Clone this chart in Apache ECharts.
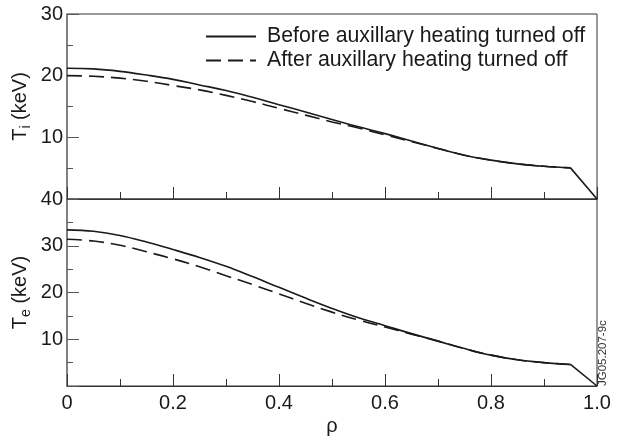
<!DOCTYPE html>
<html>
<head>
<meta charset="utf-8">
<script src="https://cdn.jsdelivr.net/npm/echarts@6/dist/echarts.min.js"></script>
<style>
  html, body { margin: 0; padding: 0; background: #fff; }
  #chart { width: 621px; height: 441px; }
</style>
</head>
<body>
<div id="chart"></div>
<script>
// Normalised radius
const rho = [0, 0.05, 0.1, 0.15, 0.2, 0.25, 0.3, 0.35, 0.4, 0.45, 0.5,
             0.55, 0.6, 0.65, 0.7, 0.75, 0.8, 0.85, 0.9, 0.95, 1.0];

// Ion temperature (keV)
const tiBefore = [21.2, 21.1, 20.7, 20.1, 19.4, 18.5, 17.6, 16.5, 15.3, 14.1, 12.9,
                  11.7, 10.6, 9.4, 8.2, 7.1, 6.3, 5.7, 5.3, 5.05, 0];
const tiAfter  = [20.0, 19.9, 19.6, 19.1, 18.4, 17.7, 16.8, 15.8, 14.7, 13.6, 12.5,
                  11.5, 10.4, 9.3, 8.2, 7.1, 6.3, 5.7, 5.3, 5.05, 0];

// Electron temperature (keV)
const teBefore = [33.4, 33.1, 32.2, 30.8, 29.2, 27.5, 25.6, 23.4, 21.1, 18.8, 16.6,
                  14.6, 12.9, 11.2, 9.6, 8.0, 6.6, 5.6, 5.0, 4.6, 0];
const teAfter  = [31.4, 31.0, 30.1, 28.7, 27.2, 25.5, 23.6, 21.7, 19.7, 17.7, 15.8,
                  14.1, 12.6, 11.1, 9.6, 8.0, 6.6, 5.6, 5.0, 4.6, 0];

const xTicks = [0, 0.2, 0.4, 0.6, 0.8, 1.0];
const seriesNames = ['Before auxillary heating turned off', 'After auxillary heating turned off'];
const stamp = 'JG05.207-9c';

// Index where the profile breaks into the straight edge segment
const KNEE = rho.indexOf(0.95);
const core = (ys) => rho.slice(0, KNEE + 1).map((r, i) => [r, ys[i]]);
const edge = (ys) => rho.slice(KNEE).map((r, i) => [r, ys[KNEE + i]]);

const FONT = 'Liberation Sans, Arial, sans-serif';
const INK = '#1a1a1a';
const DASH = [15, 7];

function xAxisCfg(gridIndex, showLabels) {
  return {
    type: 'value', gridIndex, min: 0, max: 1, interval: 0.2,
    axisLine: { show: true, lineStyle: { color: '#333', width: 1 } },
    axisTick: { show: true, inside: true, length: 12, lineStyle: { color: '#333' } },
    minorTick: { show: true, splitNumber: 2, length: 7, lineStyle: { color: '#333' } },
    splitLine: { show: false },
    axisLabel: {
      show: showLabels, margin: 7, fontFamily: FONT, fontSize: 20, color: INK,
      formatter: (v) => (xTicks.indexOf(v) >= 0 ? (v === 0 ? '0' : v.toFixed(1)) : '')
    },
    name: showLabels ? 'ρ' : '', nameLocation: 'middle', nameGap: 30,
    nameTextStyle: { fontFamily: FONT, fontSize: 20, color: INK }
  };
}

function yAxisCfg(gridIndex, max, sub) {
  return {
    type: 'value', gridIndex, min: 0, max, interval: 10,
    axisLine: { show: true, lineStyle: { color: '#777', width: 1.5 } },
    axisTick: { show: true, inside: true, length: 12, lineStyle: { color: '#555' } },
    minorTick: { show: true, splitNumber: 2, length: 6, lineStyle: { color: '#555' } },
    splitLine: { show: false },
    axisLabel: {
      margin: 4, fontFamily: FONT, fontSize: 20, color: INK,
      formatter: (v) => (v === 0 ? '' : String(v))
    },
    name: '{t|T}{s|' + sub + '}{t| (keV)}',
    nameLocation: 'middle', nameRotate: 90, nameGap: 34, nameMoveOverlap: false,
    nameTextStyle: {
      fontFamily: FONT, fontSize: 20, color: INK,
      rich: {
        t: { fontFamily: FONT, fontSize: 20, color: INK },
        s: { fontFamily: FONT, fontSize: 14, color: INK, padding: [12, 0, 0, 0] }
      }
    }
  };
}

function lineSeries(name, xi, yi, data, dashed, smooth) {
  return {
    name, type: 'line', xAxisIndex: xi, yAxisIndex: yi, data,
    symbol: 'none', smooth: smooth ? 0.4 : false,
    lineStyle: { color: INK, width: 1.6, type: dashed ? DASH : 'solid' },
    itemStyle: { color: INK },
    z: dashed ? 3 : 4
  };
}

const chart = echarts.init(document.getElementById('chart'), null, { renderer: 'canvas' });
chart.setOption({
  animation: false,
  backgroundColor: '#fff',
  grid: [
    { left: 67, width: 530, top: 14, height: 185, show: true, borderColor: '#333', borderWidth: 1,
      containLabel: false, outerBoundsMode: 'none' },
    { left: 67, width: 530, top: 199, height: 187, show: true, borderColor: '#333', borderWidth: 1,
      containLabel: false, outerBoundsMode: 'none' }
  ],
  xAxis: [xAxisCfg(0, false), xAxisCfg(1, true)],
  yAxis: [yAxisCfg(0, 30, 'i'), yAxisCfg(1, 40, 'e')],
  legend: {
    data: seriesNames,
    orient: 'vertical', left: 200, top: 21,
    itemWidth: 50, itemHeight: 14, itemGap: 3,
    itemStyle: { opacity: 0 },
    textStyle: { fontFamily: FONT, fontSize: 21.3, color: INK, padding: [0, 0, 0, 6] },
    inactiveColor: INK
  },
  series: [
    lineSeries(seriesNames[0], 0, 0, core(tiBefore), false, true),
    lineSeries(seriesNames[1], 0, 0, core(tiAfter), true, true),
    lineSeries(seriesNames[0], 0, 0, edge(tiBefore), false, false),
    lineSeries(seriesNames[0], 1, 1, core(teBefore), false, true),
    lineSeries(seriesNames[1], 1, 1, core(teAfter), true, true),
    lineSeries(seriesNames[0], 1, 1, edge(teBefore), false, false)
  ],
  graphic: [{
    type: 'text', x: 603, y: 386, rotation: Math.PI / 2,
    style: { text: stamp, fontFamily: FONT, fontSize: 11.5, fill: '#333',
             textAlign: 'left', textVerticalAlign: 'middle' }
  }]
});
</script>
</body>
</html>
